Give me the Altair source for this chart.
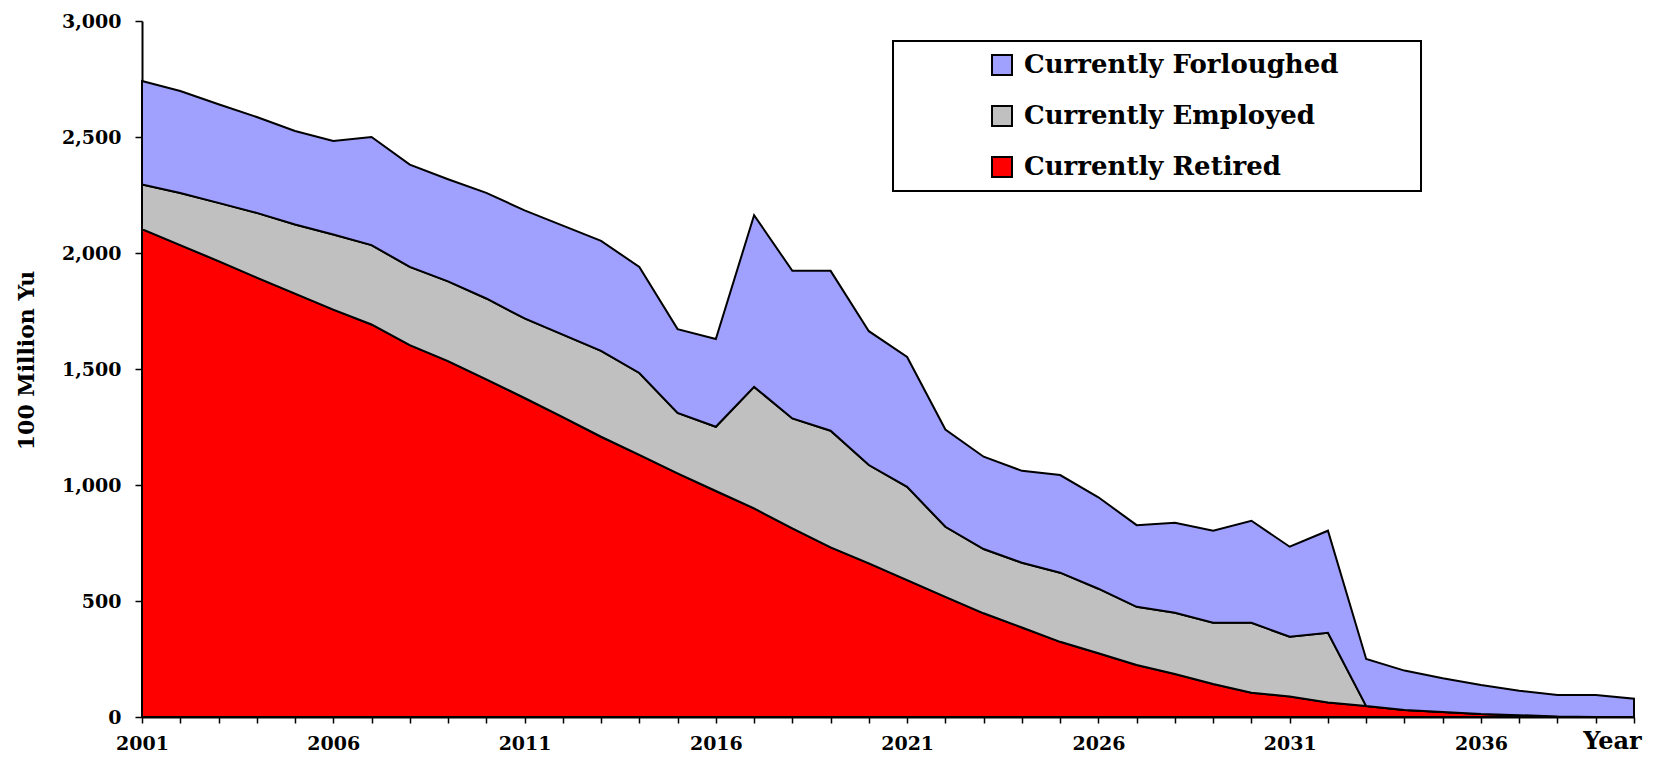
import altair as alt
import pandas as pd

# ---- data (units: 100 Million Yu) ----
years = list(range(2001, 2041))

retired = [2103, 2034, 1965, 1894, 1825, 1756, 1692, 1603, 1534, 1455,
           1375, 1293, 1208, 1130, 1050, 974, 899, 813, 731, 662,
           590, 518, 447, 386, 324, 275, 224, 185, 142, 105,
           88, 63, 47, 30, 22, 13, 8, 2, 0, 0]

employed = [192, 225, 251, 279, 298, 324, 342, 337, 344, 349,
            343, 355, 370, 353, 261, 277, 524, 474, 503, 424,
            402, 302, 277, 279, 298, 278, 251, 264, 264, 301,
            258, 300, 0, 0, 0, 0, 0, 0, 0, 0]

forloughed = [446, 439, 425, 413, 403, 403, 466, 441, 440, 455,
              466, 470, 474, 457, 361, 378, 740, 636, 689, 577,
              560, 419, 398, 396, 421, 394, 352, 388, 397, 440,
              388, 440, 203, 170, 145, 125, 105, 93, 95, 79]

series_names = ["Currently Forloughed", "Currently Employed", "Currently Retired"]
series_colors = ["#A0A0FF", "#C0C0C0", "#FF0000"]
y_tick_values = [0, 500, 1000, 1500, 2000, 2500, 3000]
x_label_years = [2001, 2006, 2011, 2016, 2021, 2026, 2031, 2036]

# ---- long table ----
rows = []
for i, yr in enumerate(years):
    rows.append({"Year": yr, "Series": "Currently Retired", "Value": retired[i], "k": 0})
    rows.append({"Year": yr, "Series": "Currently Employed", "Value": employed[i], "k": 1})
    rows.append({"Year": yr, "Series": "Currently Forloughed", "Value": forloughed[i], "k": 2})
df = pd.DataFrame(rows)

FONT = "DejaVu Serif"
label_list = ",".join(str(v) for v in x_label_years)

area = alt.Chart(df).mark_area(
    stroke="black", strokeWidth=2, strokeJoin="miter", opacity=1
).encode(
    x=alt.X(
        "Year:Q",
        scale=alt.Scale(domain=[years[0], years[-1]], nice=False, zero=False),
        axis=alt.Axis(
            values=years,
            format="d",
            labelExpr=f"indexof([{label_list}], datum.value) >= 0 ? datum.label : ''",
            title="Year",
            titleX=1470,
            titleY=31,
            titleAlign="center",
            titleBaseline="alphabetic",
            titleAnchor="start",
            titleFont=FONT,
            titleFontSize=24,
            titleFontWeight="bold",
            labelFont=FONT,
            labelFontSize=19,
            labelFontWeight="bold",
            labelBaseline="alphabetic",
            labelPadding=26,
            labelOverlap=False,
            labelFlush=False,
            tickSize=6,
            tickWidth=1.5,
            tickColor="black",
            domainColor="black",
            domainWidth=2,
            grid=False,
        ),
    ),
    y=alt.Y(
        "Value:Q",
        stack="zero",
        scale=alt.Scale(domain=[0, 3000], nice=False),
        axis=alt.Axis(
            values=y_tick_values,
            format=",d",
            title="100 Million Yu",
            titleFont=FONT,
            titleFontSize=22,
            titleFontWeight="bold",
            titleX=-104,
            titleY=339,
            titleAngle=270,
            titleAlign="center",
            titleBaseline="bottom",
            labelFont=FONT,
            labelFontSize=19,
            labelFontWeight="bold",
            labelPadding=14,
            tickSize=7,
            tickWidth=1.5,
            tickColor="black",
            domainColor="black",
            domainWidth=2,
            grid=False,
        ),
    ),
    color=alt.Color(
        "Series:N",
        scale=alt.Scale(domain=series_names, range=series_colors),
        legend=alt.Legend(
            orient="none",
            legendX=847,
            legendY=31,
            title=None,
            padding=0,
            labelFont=FONT,
            labelFontSize=26,
            labelFontWeight="bold",
            labelColor="black",
            labelOffset=9,
            labelLimit=500,
            symbolType="square",
            symbolSize=400,
            symbolStrokeColor="black",
            symbolStrokeWidth=2,
            symbolOpacity=1,
            rowPadding=23,
        ),
    ),
    order=alt.Order("k:Q"),
)

frame = alt.Chart(alt.Data(values=[{"f": 1}])).mark_rect(
    fill="white", stroke="black", strokeWidth=2
).encode(
    x=alt.value(751),
    x2=alt.value(1279),
    y=alt.value(20),
    y2=alt.value(170),
)

chart = alt.layer(frame, area).properties(
    width=1492,
    height=696,
    padding={"left": 134, "top": 13, "right": 11, "bottom": 37},
    autosize=alt.AutoSizeParams(type="none"),
    background="white",
).configure_view(stroke=None)

chart.save("out.html", embed_options={"renderer": "svg", "actions": False})
